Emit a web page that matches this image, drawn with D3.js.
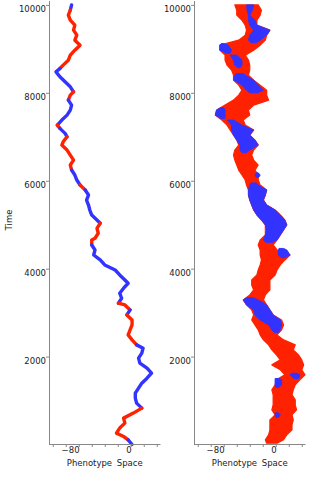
<!DOCTYPE html>
<html>
<head>
<meta charset="utf-8">
<title>Phenotype Space</title>
<style>
  body { margin: 0; background: #fff; }
  svg { display: block; }
  .axis path, .axis line { stroke: #888; }
  .axis text { font: 8.5px "DejaVu Sans", sans-serif; fill: #222; }
  .label { font: 8.5px "DejaVu Sans", sans-serif; fill: #222; }
</style>
<script src="https://d3js.org/d3.v7.min.js"></script>
</head>
<body>
<svg width="328" height="481"></svg>
<script>
// left panel: single lineage, phenotype at each sampled time, colour of the segment ending there
var leftTime = [10000, 9880, 9766, 9652, 9539, 9425, 9311, 9198, 9084, 8970, 8857, 8743, 8630, 8554, 8477, 8364, 8250, 8136, 8023, 7948,
  7834, 7720, 7607, 7493, 7380, 7266, 7191, 7077, 7000, 6886, 6811, 6698, 6584, 6470, 6357, 6243, 6130, 6016, 5902, 5789,
  5675, 5561, 5448, 5334, 5220, 5107, 5032, 4918, 4805, 4691, 4652, 4539, 4425, 4311, 4198, 4084, 3970, 3857, 3743, 3668,
  3555, 3441, 3327, 3214, 3175, 3061, 2948, 2834, 2720, 2607, 2493, 2380, 2266, 2191, 2077, 1964, 1850, 1736, 1623, 1509,
  1395, 1282, 1168, 1055, 941, 827, 714, 600, 486, 373, 259, 182, 107, 0];
var leftValue = [-91, -93, -96, -93, -86, -88, -83, -86, -78, -86, -93, -96, -104, -109, -115, -109, -101, -93, -88, -93,
  -96, -91, -93, -98, -106, -113, -109, -101, -98, -104, -106, -98, -93, -88, -93, -91, -86, -83, -78, -70,
  -65, -68, -65, -63, -60, -52, -47, -52, -50, -55, -60, -60, -55, -57, -47, -40, -24, -17, -9, -4,
  -11, -17, -14, -19, -9, -1, -6, 2, 2, -1, -4, 2, 9, 19, 17, 12, 14, 25, 32, 25,
  17, 12, 7, 7, 9, 17, 4, -11, -9, -17, -22, -11, -4, 2];
var leftColor = ("BBRRRRRRRR" + "RRRRBBBBBR" + "RBBBBBRBBR" + "RRRRRRBBBR" + "BBBBBBBRRR" +
  "RRBBBBBBBB" + "BBBBRRBRRR" + "RRRBBBBBBB" + "BBBBBBRRRR" + "RRRB").split("");

// right panel: population spread (low / high edge) at each sampled time
var rightTime = [10000, 9879, 9766, 9652, 9539, 9425, 9311, 9198, 9084, 8970, 8857, 8743, 8630, 8516, 8402, 8289, 8175, 8061, 7948, 7834,
  7720, 7607, 7493, 7380, 7266, 7152, 7039, 6925, 6811, 6698, 6584, 6470, 6357, 6243, 6130, 6016, 5902, 5789, 5675, 5561,
  5448, 5334, 5220, 5107, 4993, 4880, 4766, 4652, 4539, 4425, 4311, 4198, 4084, 3970, 3857, 3743, 3630, 3516, 3402, 3289,
  3175, 3061, 2948, 2834, 2720, 2607, 2493, 2380, 2266, 2152, 2039, 1925, 1811, 1698, 1584, 1470, 1357, 1243, 1130, 1016,
  902, 789, 675, 561, 448, 334, 220, 107, 30];
var rightLo = [-63, -60, -60, -52, -47, -45, -47, -57, -86, -86, -78, -78, -75, -68, -65, -65, -57, -52, -57, -65,
  -78, -91, -93, -83, -75, -70, -65, -60, -57, -63, -65, -63, -60, -57, -52, -47, -45, -42, -42, -40,
  -37, -34, -29, -22, -16, -16, -16, -24, -27, -24, -24, -22, -24, -27, -29, -37, -37, -34, -40, -50,
  -45, -37, -34, -37, -32, -27, -24, -19, -11, -6, 1, 7, -6, 7, 14, 1, -1, -6, -4, -4,
  -4, -6, -1, -9, -9, -9, -11, -16, -14];
var rightHi = [-27, -22, -24, -29, -29, -9, -14, -16, -24, -34, -47, -42, -40, -40, -42, -34, -24, -14, -14, -11,
  -34, -42, -40, -50, -47, -34, -40, -32, -27, -34, -37, -34, -27, -32, -27, -27, -24, -14, -16, -19,
  -14, -1, 7, 14, 17, 12, 7, 2, -4, 2, 22, 14, 7, 2, -1, -9, -9, -9, -16, -19,
  -14, -9, -4, 9, 12, 9, 2, 12, 30, 27, 35, 40, 43, 40, 45, 37, 30, 27, 25, 30,
  30, 32, 25, 27, 25, 25, 17, 12, 2];

// blue sub-population patches (null separates patches)
var blueTime = [10000, 9879, 9766, 9652, 9539, 9425, 9311, 9198, 9140, null,
  9120, 9084, 8970, 8900, null,
  8857, 8743, 8630, 8570, null,
  8440, 8402, 8289, 8175, 8061, 8000, null,
  7660, 7607, 7493, 7420, null,
  7380, 7266, 7152, 7039, 6925, 6811, 6698, 6640, null,
  6180, 6130, 6080, null,
  5950, 5902, 5789, 5675, 5561, 5448, 5334, 5220, 5107, 4993, 4880, 4766, 4652, 4600, null,
  4460, 4425, 4311, 4250, null,
  3340, 3289, 3175, 3061, 2948, 2834, 2720, 2607, 2550, null,
  1620, 1584, 1500, null,
  1500, 1470, 1357, 1300, null,
  720, 675, 620];
var blueLo = [-45, -44, -42, -42, -40, -34, -40, -42, -38, null,
  -84, -86, -86, -76, null,
  -70, -65, -63, -58, null,
  -60, -63, -65, -52, -45, -40, null,
  -85, -91, -93, -85, null,
  -75, -68, -68, -65, -60, -55, -55, -52, null,
  -30, -32, -30, null,
  -38, -40, -42, -42, -40, -37, -34, -29, -22, -16, -14, -16, -19, -15, null,
  5, 4, 4, 8, null,
  -45, -50, -45, -34, -32, -24, -11, -6, -2, null,
  25, 22, 28, null,
  -1, -1, -1, 0, null,
  -1, -1, 0];
var blueHi = [-34, -36, -40, -32, -29, -9, -14, -24, -30, null,
  -80, -73, -68, -70, null,
  -60, -52, -52, -55, null,
  -50, -47, -34, -27, -19, -28, null,
  -80, -78, -78, -78, null,
  -65, -52, -34, -40, -32, -27, -40, -45, null,
  -27, -24, -26, null,
  -30, -27, -14, -16, -19, -14, -1, 7, 14, 17, 12, 7, 2, -5, null,
  12, 17, 22, 14, null,
  -35, -27, -14, -9, -4, 7, 9, 7, 4, null,
  32, 37, 35, null,
  6, 9, 9, 5, null,
  4, 7, 4];

var yTicks = [2000, 4000, 6000, 8000, 10000];
var xTicks = [-120, -100, -80, -60, -40, -20, 0, 20, 40];
var xLabels = [-80, 0];

var svg = d3.select("svg");
var red = "#ff2200", blue = "#3333ff";

var y = d3.scaleLinear().domain([0, 10100]).range([444.5, 0.5]);
var xLeft = d3.scaleLinear().domain([-125, 45]).range([49.5, 160]);
var xRight = d3.scaleLinear().domain([-125, 45]).range([194.5, 305]);

function drawAxes(x) {
  var gx = svg.append("g")
    .attr("class", "axis")
    .attr("transform", "translate(0,444)")
    .call(d3.axisBottom(x).tickValues(xTicks).tickSize(3).tickSizeOuter(0).tickPadding(0)
      .tickFormat(d => xLabels.indexOf(d) >= 0 ? d3.format("")(d) : ""));
  gx.selectAll("text").attr("text-anchor", "end").attr("dx", "0.3");

  var gy = svg.append("g")
    .attr("class", "axis")
    .attr("transform", `translate(${x.range()[0] - 0.5},0)`)
    .call(d3.axisLeft(y).tickValues(yTicks).tickSize(3).tickSizeOuter(0).tickPadding(0)
      .tickFormat(d3.format("d")));
  gy.selectAll("text").attr("dy", "0.78em");

  svg.append("text")
    .attr("class", "label")
    .attr("x", (x.range()[0] + x.range()[1]) / 2)
    .attr("y", 466)
    .attr("text-anchor", "middle")
    .style("word-spacing", "2px")
    .text("Phenotype Space");
}

// left: line split into runs of one colour
var pts = leftTime.map((t, i) => ({t: t, v: leftValue[i], c: leftColor[i]}));
var runs = [];
for (var i = 1; i < pts.length; i++) {
  var last = runs[runs.length - 1];
  if (last && last.c === pts[i].c) last.pts.push(pts[i]);
  else runs.push({c: pts[i].c, pts: [pts[i - 1], pts[i]]});
}
var line = d3.line().x(d => xLeft(d.v)).y(d => y(d.t));
svg.append("g")
  .selectAll("path")
  .data(runs)
  .enter()
  .append("path")
  .attr("d", d => line(d.pts))
  .attr("fill", "none")
  .attr("stroke", d => d.c === "R" ? red : blue)
  .attr("stroke-width", 3.4)
  .attr("stroke-linejoin", "round")
  .attr("stroke-linecap", "round");

// right: red band, blue patches on top
var band = rightTime.map((t, i) => ({t: t, lo: rightLo[i], hi: rightHi[i]}));
var area = d3.area()
  .y(d => y(d.t))
  .x0(d => xRight(d.lo))
  .x1(d => xRight(d.hi))
  .defined(d => d.t != null);
svg.append("path")
  .datum(band)
  .attr("d", area)
  .attr("fill", red)
  .attr("stroke", red)
  .attr("stroke-width", 1.2)
  .attr("stroke-linejoin", "round");

var patches = blueTime.map((t, i) => ({t: t, lo: blueLo[i], hi: blueHi[i]}));
svg.append("path")
  .datum(patches)
  .attr("d", area)
  .attr("fill", blue)
  .attr("stroke", blue)
  .attr("stroke-width", 1)
  .attr("stroke-linejoin", "round");

drawAxes(xLeft);
drawAxes(xRight);

svg.append("text")
  .attr("class", "label")
  .attr("transform", "translate(12,220) rotate(-90)")
  .attr("text-anchor", "middle")
  .text("Time");
</script>
</body>
</html>
